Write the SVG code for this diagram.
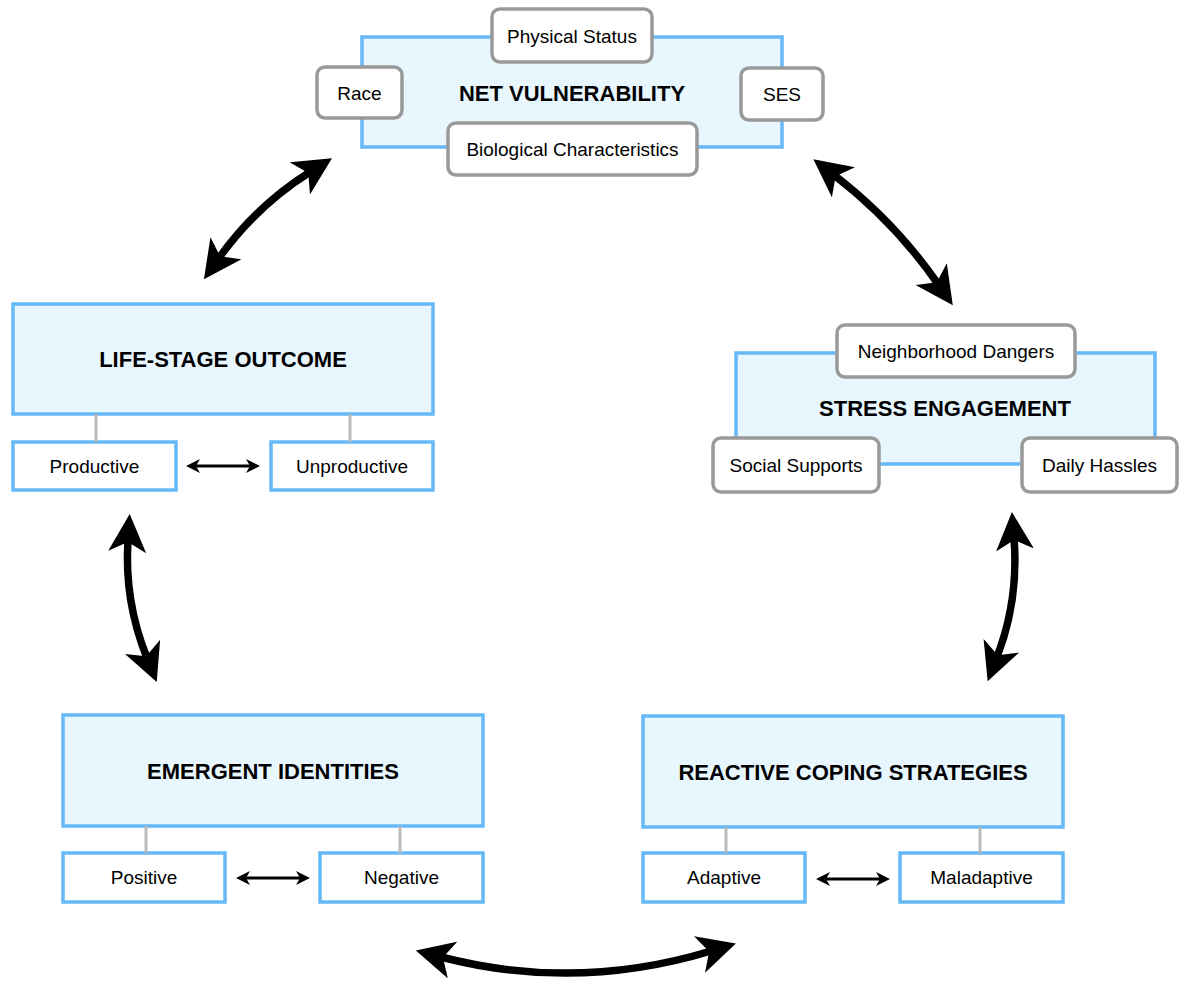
<svg xmlns="http://www.w3.org/2000/svg" width="1183" height="982" viewBox="0 0 1183 982">
<style>
.main{fill:#e8f6fe;stroke:#66b9f6;stroke-width:3.5}
.sub{fill:#fff;stroke:#66b9f6;stroke-width:3.5}
.tag{fill:#fff;stroke:#999;stroke-width:3.5}
.stem{stroke:#bbb;stroke-width:3}
.title{font-family:"Liberation Sans",Arial,sans-serif;font-weight:bold;font-size:22px;fill:#000;text-anchor:middle}
.lbl{font-family:"Liberation Sans",Arial,sans-serif;font-size:19px;fill:#000;text-anchor:middle}
.big{fill:none;stroke:#000;stroke-width:7.5;marker-start:url(#bh);marker-end:url(#bh)}
.small{fill:none;stroke:#000;stroke-width:3;marker-start:url(#sh);marker-end:url(#sh)}
</style>
<defs>
<marker id="bh" viewBox="0 0 38 38" refX="12" refY="19" markerWidth="38" markerHeight="38" markerUnits="userSpaceOnUse" orient="auto-start-reverse">
<path d="M0,0 L38,19 L0,38 L10,19 Z" fill="#000"/>
</marker>
<marker id="sh" viewBox="0 0 14 14" refX="5" refY="7" markerWidth="14" markerHeight="14" markerUnits="userSpaceOnUse" orient="auto-start-reverse">
<path d="M0,0 L14,7 L0,14 L4,7 Z" fill="#000"/>
</marker>
</defs>

<g id="net-vulnerability">
<rect class="main" x="362" y="37" width="420" height="110"/>
<text class="title" x="572" y="101">NET VULNERABILITY</text>
</g>
<g id="physical-status">
<rect class="tag" x="492" y="9" width="160" height="53" rx="8"/>
<text class="lbl" x="572" y="42.5">Physical Status</text>
</g>
<g id="race">
<rect class="tag" x="317" y="67" width="85" height="51" rx="8"/>
<text class="lbl" x="359.5" y="99.5">Race</text>
</g>
<g id="ses">
<rect class="tag" x="741" y="68" width="82" height="52" rx="8"/>
<text class="lbl" x="782" y="101">SES</text>
</g>
<g id="biological">
<rect class="tag" x="448" y="123" width="249" height="52" rx="8"/>
<text class="lbl" x="572.5" y="156">Biological Characteristics</text>
</g>

<g id="life-stage-outcome">
<rect class="main" x="13" y="304" width="420" height="110"/>
<text class="title" x="223" y="367">LIFE-STAGE OUTCOME</text>
</g>
<g id="productive">
<rect class="sub" x="13" y="442" width="163" height="48"/>
<text class="lbl" x="94.5" y="472.5">Productive</text>
</g>
<g id="unproductive">
<rect class="sub" x="271" y="442" width="162" height="48"/>
<text class="lbl" x="352" y="472.5">Unproductive</text>
</g>

<g id="stress-engagement">
<rect class="main" x="736" y="353" width="419" height="111"/>
<text class="title" x="945" y="416">STRESS ENGAGEMENT</text>
</g>
<g id="neighborhood-dangers">
<rect class="tag" x="837" y="325" width="238" height="52" rx="8"/>
<text class="lbl" x="956" y="358">Neighborhood Dangers</text>
</g>
<g id="social-supports">
<rect class="tag" x="713" y="438" width="166" height="54" rx="8"/>
<text class="lbl" x="796" y="472">Social Supports</text>
</g>
<g id="daily-hassles">
<rect class="tag" x="1022" y="438" width="155" height="54" rx="8"/>
<text class="lbl" x="1099.5" y="472">Daily Hassles</text>
</g>

<g id="emergent-identities">
<rect class="main" x="63" y="715" width="420" height="111"/>
<text class="title" x="273" y="778.5">EMERGENT IDENTITIES</text>
</g>
<g id="positive">
<rect class="sub" x="63" y="853" width="162" height="49"/>
<text class="lbl" x="144" y="884">Positive</text>
</g>
<g id="negative">
<rect class="sub" x="320" y="853" width="163" height="49"/>
<text class="lbl" x="401.5" y="884">Negative</text>
</g>

<g id="reactive-coping">
<rect class="main" x="643" y="716" width="420" height="111"/>
<text class="title" x="853" y="779.5">REACTIVE COPING STRATEGIES</text>
</g>
<g id="adaptive">
<rect class="sub" x="643" y="853" width="162" height="49"/>
<text class="lbl" x="724" y="884">Adaptive</text>
</g>
<g id="maladaptive">
<rect class="sub" x="900" y="853" width="163" height="49"/>
<text class="lbl" x="981.5" y="884">Maladaptive</text>
</g>

<g id="connectors">
<line class="stem" x1="96" y1="414" x2="96" y2="442"/>
<line class="stem" x1="350" y1="414" x2="350" y2="442"/>
<line class="stem" x1="146" y1="826" x2="146" y2="853"/>
<line class="stem" x1="400" y1="826" x2="400" y2="853"/>
<line class="stem" x1="726" y1="827" x2="726" y2="853"/>
<line class="stem" x1="980" y1="827" x2="980" y2="853"/>
<path class="small" d="M195,466 L251,466"/>
<path class="small" d="M245,878 L301,878"/>
<path class="small" d="M825,879 L881,879"/>
<path class="big" d="M310,172 Q256,206 219,258"/>
<path class="big" d="M834,175 Q895,222 938,284"/>
<path class="big" d="M128,540 Q124,601 147,658"/>
<path class="big" d="M1014,538 Q1019,600 997,657"/>
<path class="big" d="M441,957 Q576,992 711,951"/>
</g>
</svg>
